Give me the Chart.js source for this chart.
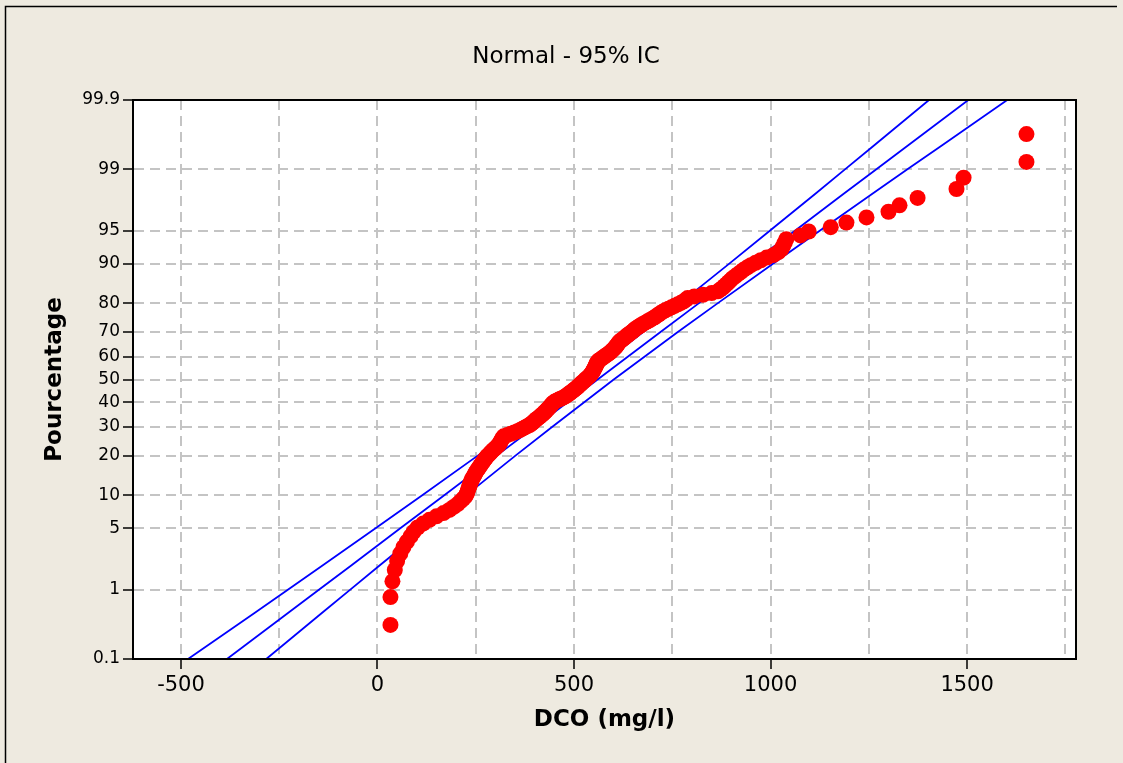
<!DOCTYPE html>
<html>
<head>
<meta charset="utf-8">
<script src="https://cdn.jsdelivr.net/npm/chart.js@4.4.1/dist/chart.umd.min.js"></script>
<style>
  html, body { margin: 0; padding: 0; background: #eeeae0; }
  #wrap { width: 1123px; height: 763px; }
</style>
</head>
<body>
<div id="wrap"><canvas id="plot" width="1123" height="763"></canvas></div>
<script>
// DCO values (mg/l), sorted (n = 210)
const dco = [
  33, 33, 38, 44, 50, 58, 66, 75, 84, 92,
  102, 116, 132, 150, 168, 183, 194, 204, 211, 218,
  224, 227, 229, 231, 233, 235, 237, 239, 241, 244,
  247, 249, 252, 255, 258, 261, 264, 267, 270, 273,
  276, 279, 283, 287, 290, 294, 298, 302, 306, 309,
  311, 313, 315, 317, 319, 321, 330, 339, 348, 356,
  363, 369, 375, 381, 387, 391, 395, 398, 402, 405,
  409, 413, 416, 420, 423, 426, 429, 431, 434, 437,
  439, 442, 444, 447, 450, 455, 461, 467, 473, 478,
  482, 486, 490, 493, 497, 500, 504, 507, 510, 513,
  516, 519, 522, 525, 528, 531, 534, 537, 540, 542,
  544, 546, 548, 549, 551, 552, 554, 555, 556, 558,
  559, 560, 563, 567, 571, 575, 579, 583, 587, 591,
  594, 597, 600, 603, 606, 608, 610, 612, 614, 617,
  621, 625, 629, 632, 636, 640, 644, 648, 652, 655,
  660, 665, 670, 675, 681, 687, 693, 699, 705, 710,
  715, 720, 726, 732, 740, 748, 756, 764, 772, 779,
  785, 789, 806, 828, 850, 866, 872, 878, 883, 888,
  893, 898, 903, 910, 917, 924, 931, 940, 950, 962,
  975, 990, 1008, 1020, 1028, 1032, 1036, 1040, 1076, 1097,
  1153, 1193, 1244, 1300, 1328, 1374, 1473, 1491, 1651, 1651
];

// fitted line and 95% band, read at these percentages
const bandPct = [0.1, 0.5, 1, 2, 5, 10, 20, 30, 50, 70, 80, 90, 95, 98, 99, 99.5, 99.9];
const fitX    = [-383, -226, -150, -66, 58, 169, 303, 400, 560, 720, 817, 951, 1062, 1186, 1270, 1346, 1503];
const bandLo  = [-482, -311, -229, -139, -5, 113, 255, 356, 519, 676, 769, 895, 998, 1114, 1190, 1260, 1403];
const bandHi  = [-283, -140, -70, 6, 122, 225, 351, 444, 601, 764, 865, 1007, 1125, 1259, 1349, 1432, 1602];

const yTicks = [0.1, 1, 5, 10, 20, 30, 40, 50, 60, 70, 80, 90, 95, 99, 99.9];
const yTickLabels = ['0.1', '1', '5', '10', '20', '30', '40', '50', '60', '70', '80', '90', '95', '99', '99.9'];
const xTicks = [-500, -250, 0, 250, 500, 750, 1000, 1250, 1500, 1750];

const chartTitle = 'Normal - 95% IC';

// inverse normal cdf (Acklam)
function qnorm(p) {
  const a = [-39.69683028665376, 220.9460984245205, -275.9285104469687, 138.3577518672690, -30.66479806614716, 2.506628277459239];
  const b = [-54.47609879822406, 161.5858368580409, -155.6989798598866, 66.80131188771972, -13.28068155288572];
  const c = [-0.007784894002430293, -0.3223964580411365, -2.400758277161838, -2.549732539343734, 4.374664141464968, 2.938163982698783];
  const d = [0.007784695709041462, 0.3224671290700398, 2.445134137142996, 3.754408661907416];
  const pl = 0.02425;
  let q, r;
  if (p < pl) {
    q = Math.sqrt(-2 * Math.log(p));
    return (((((c[0]*q+c[1])*q+c[2])*q+c[3])*q+c[4])*q+c[5]) / ((((d[0]*q+d[1])*q+d[2])*q+d[3])*q+1);
  }
  if (p > 1 - pl) {
    q = Math.sqrt(-2 * Math.log(1 - p));
    return -(((((c[0]*q+c[1])*q+c[2])*q+c[3])*q+c[4])*q+c[5]) / ((((d[0]*q+d[1])*q+d[2])*q+d[3])*q+1);
  }
  q = p - 0.5; r = q * q;
  return (((((a[0]*r+a[1])*r+a[2])*r+a[3])*r+a[4])*r+a[5])*q / (((((b[0]*r+b[1])*r+b[2])*r+b[3])*r+b[4])*r+1);
}

// median-rank plotting positions, as on the original plot
const n = dco.length;
const points = dco.map((v, i) => ({ x: v, y: qnorm((i + 1 - 0.3) / (n + 0.4)) }));
const toLine = (xs) => xs.map((v, i) => ({ x: v, y: qnorm(bandPct[i] / 100) }));

const FONT = "'DejaVu Sans', sans-serif";

const bgPlugin = {
  id: 'bg',
  beforeDraw(chart) {
    const { ctx, chartArea: a } = chart;
    ctx.save();
    ctx.fillStyle = '#eeeae0';
    ctx.fillRect(0, 0, chart.width, chart.height);
    ctx.fillStyle = '#ffffff';
    ctx.fillRect(a.left, a.top, a.right - a.left, a.bottom - a.top);
    ctx.strokeStyle = '#000';
    ctx.lineWidth = 1.5;
    ctx.beginPath();
    ctx.moveTo(5.5, chart.height);
    ctx.lineTo(5.5, 6.5);
    ctx.lineTo(1117, 6.5);
    ctx.stroke();
    ctx.restore();
  },
  afterDraw(chart) {
    const { ctx, chartArea: a } = chart;
    ctx.save();
    ctx.strokeStyle = '#000';
    ctx.lineWidth = 2;
    ctx.strokeRect(a.left, a.top, a.right - a.left, a.bottom - a.top);
    // title, centred like the original (over the full frame)
    ctx.fillStyle = '#000';
    ctx.font = '23px ' + FONT;
    ctx.textAlign = 'center';
    ctx.textBaseline = 'middle';
    ctx.fillText(chartTitle, 566, 57);
    ctx.restore();
  }
};

const lineStyle = {
  type: 'line',
  borderColor: '#0000ff',
  borderWidth: 1.8,
  pointRadius: 0,
  fill: false
};

new Chart(document.getElementById('plot').getContext('2d'), {
  type: 'scatter',
  data: {
    datasets: [
      {
        label: 'DCO',
        data: points,
        backgroundColor: '#ff0000',
        borderWidth: 0,
        pointRadius: 8,
        pointHoverRadius: 8
      },
      Object.assign({ label: 'fit', data: toLine(fitX) }, lineStyle),
      Object.assign({ label: 'lo', data: toLine(bandLo) }, lineStyle),
      Object.assign({ label: 'hi', data: toLine(bandHi) }, lineStyle)
    ]
  },
  options: {
    responsive: false,
    animation: false,
    events: [],
    layout: { padding: { left: 0, right: 47, top: 100, bottom: 0 } },
    plugins: {
      legend: { display: false },
      tooltip: { enabled: false },
      title: { display: false }
    },
    scales: {
      x: {
        type: 'linear',
        min: -622,
        max: 1777,
        afterBuildTicks: (s) => { s.ticks = xTicks.map(v => ({ value: v })); },
        afterFit: (s) => { s.height = 104; },
        ticks: {
          autoSkip: false,
          maxRotation: 0,
          color: '#000',
          padding: 4,
          font: { family: FONT, size: 21 },
          callback: (v) => (v % 500 === 0 ? String(v) : '')
        },
        grid: {
          color: '#c4c4c4',
          lineWidth: 2,
          tickLength: 10,
          tickWidth: 1.5,
          tickColor: (c) => (c.tick && c.tick.value % 500 === 0 ? '#000' : 'rgba(0,0,0,0)')
        },
        border: { color: '#000', width: 2, dash: [10, 6] },
        title: {
          display: true,
          text: 'DCO (mg/l)',
          color: '#000',
          font: { family: FONT, size: 23, weight: 'bold', lineHeight: 1.2 },
          padding: { top: 0, bottom: 29 }
        }
      },
      y: {
        type: 'linear',
        min: qnorm(0.001),
        max: qnorm(0.999),
        afterBuildTicks: (s) => { s.ticks = yTicks.map(p => ({ value: qnorm(p / 100) })); },
        afterFit: (s) => { s.width = 133; },
        ticks: {
          autoSkip: false,
          color: '#000',
          padding: 3,
          font: { family: FONT, size: 17 },
          callback: (v, i) => yTickLabels[i]
        },
        grid: {
          color: '#c4c4c4',
          lineWidth: 2,
          tickLength: 10,
          tickWidth: 1.5,
          tickColor: '#000'
        },
        border: { color: '#000', width: 2, dash: [10, 6] },
        title: {
          display: true,
          text: 'Pourcentage',
          color: '#000',
          font: { family: FONT, size: 23, weight: 'bold', lineHeight: 1.2 },
          padding: { top: 41, bottom: 0 }
        }
      }
    }
  },
  plugins: [bgPlugin]
});
</script>
</body>
</html>
